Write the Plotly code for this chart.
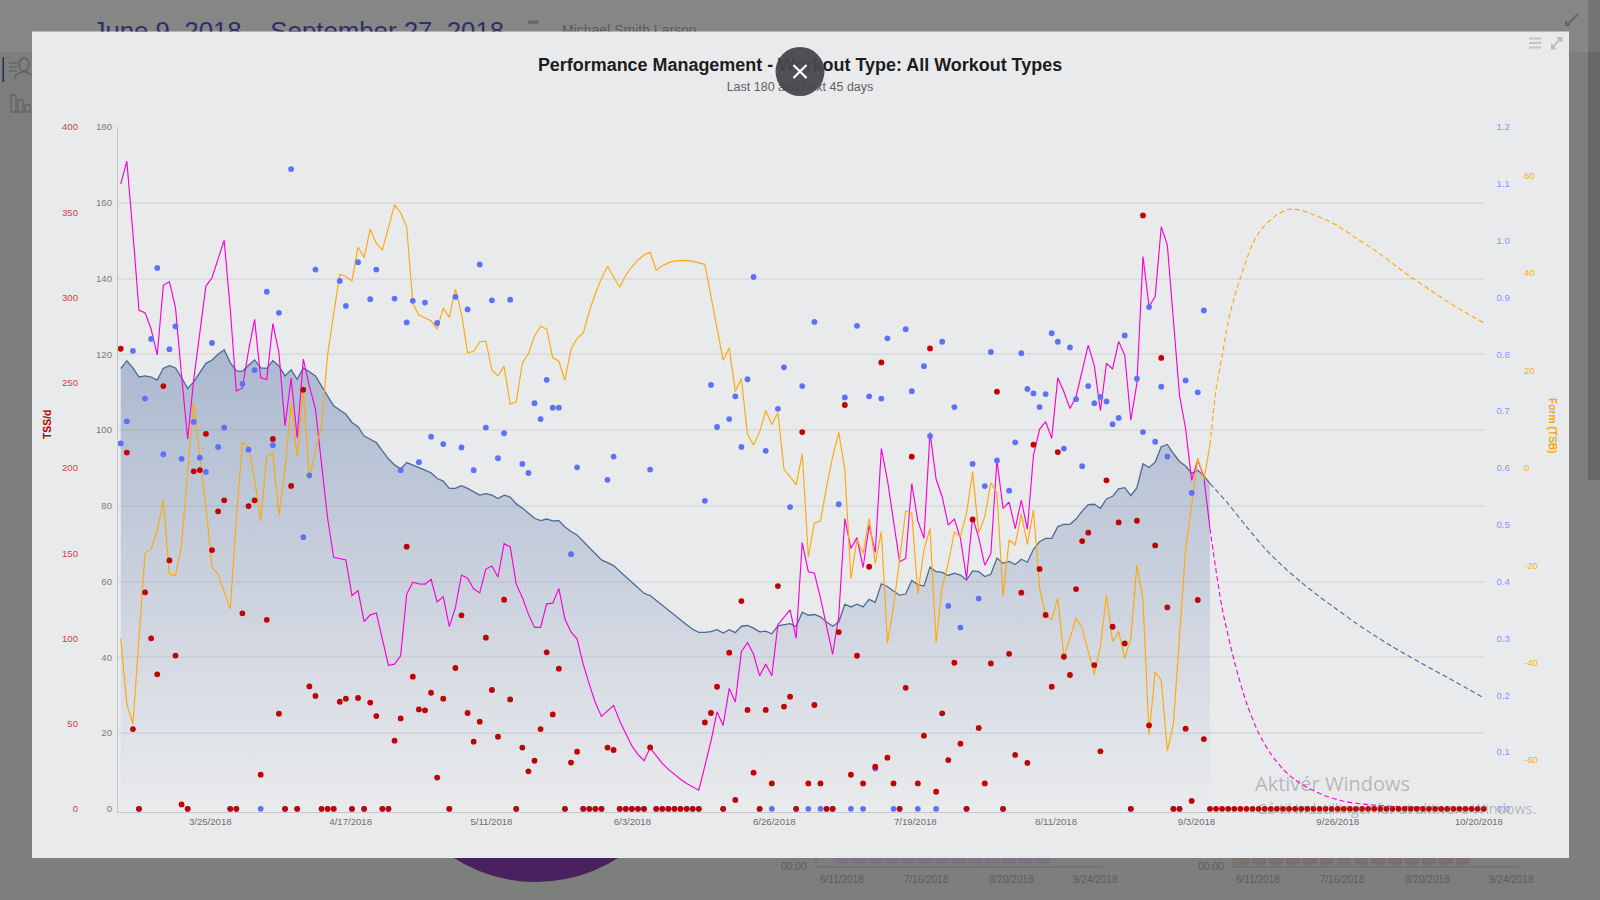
import pandas as pd
import plotly.graph_objects as go

# ---------- data ----------
start_date = "2018-03-11"
tick_dates = ["2018-03-25 17:00", "2018-04-17 19:00", "2018-05-10 22:00", "2018-06-03 02:00", "2018-06-26 10:00",
              "2018-07-19 14:00", "2018-08-11 17:00", "2018-09-03 19:00", "2018-09-27 00:00", "2018-10-20 05:00"]
tick_labels = ["3/25/2018", "4/17/2018", "5/11/2018", "6/3/2018", "6/26/2018",
               "7/19/2018", "8/11/2018", "9/3/2018", "9/26/2018", "10/20/2018"]

ctl = [116.2,118.3,116.4,114,114.3,114,113.2,116.3,117,116.4,
       113.8,111,112.7,115.2,117.6,118.5,120,121.2,117.8,115.6,
       115.5,117.1,118.5,116.4,116.3,118.3,116.9,114.3,115.9,113.4,
       116.4,115.4,114.3,111.6,108.8,106.4,105.3,104.2,102,100.9,
       98.4,97.6,96.7,94.5,92.4,90.8,89.7,91.4,90.8,90.1,
       89.4,88.7,87.2,86.5,84.6,84.6,85.3,84.6,83.6,82.8,
       83.2,82.8,81.9,82.8,82.3,80.5,79.4,78.1,76.7,76.1,
       76.5,76,76.1,74.4,73.2,72.3,70.6,69,67.3,65.7,
       65,64.2,62.7,61.2,59.8,58.3,56.9,56.3,55,53.7,
       52.4,51,49.7,48.6,47.4,46.6,46.6,46.8,47.3,46.4,
       47.3,46.5,48.2,48.4,47.7,46.7,46.9,46.2,48.3,48.6,
       48.9,48.1,51.9,51.1,51.3,50.7,49.3,48.2,49.3,54,
       53.3,54,53.3,55.3,54.5,59.4,58.7,57.5,56.4,56.7,
       60.3,59.2,58.8,63.8,62.6,62.4,61.6,62.2,61.7,60.4,
       62.8,62.6,61.3,61.9,66.2,64.8,65.3,64.5,65.9,65.1,
       68.5,70.5,71.4,71.4,74.5,75.1,75.1,76.5,78.6,80.3,
       80.4,79.3,81.8,82.5,84.5,84.8,82.7,84.8,91.1,90.1,
       91.5,95.6,96.2,93.8,91.7,90.5,88.6,89.4,87.9,85.9]

atl = [164.9,171,152.1,131.6,131,126.6,119.8,138.2,139.2,132.3,
       114.3,97.6,113.4,125.7,138,140.2,145.1,150.1,131.9,110.3,
       111.1,120.9,129.2,113.8,113.4,128.1,120.4,101.1,113.7,98,
       118.7,111.6,105.5,90.4,76.7,66.4,66.1,65.7,56.3,57.6,
       49.4,51.2,51.7,44.6,37.9,38.2,40.4,56.7,59.8,59.4,
       59.3,60.6,54.6,56,48.1,53.1,61.7,60.9,58.1,57,
       63.3,64.1,61.2,70,69.2,59.3,55.8,51.4,47.9,47.9,
       54.1,54.3,58.2,50.1,46.7,44.8,38.2,32.9,28,24.4,
       25.8,27.3,23.2,19.7,16.6,14.4,12.7,16.1,14,12,
       10.4,9,7.8,6.7,5.8,4.9,11.3,17.9,25.6,22,
       31.8,28.2,41.5,43.9,40.8,35.1,38.2,35.1,48.6,50.6,
       52.5,45,70.3,62.6,62.2,55.6,47.9,40.8,50.9,76.6,
       68.7,71.6,63.7,74.9,67.7,95.1,86.8,75.6,65.2,66.1,
       85.9,76,71.4,99.4,87,82.4,74.9,76.5,71.4,60.8,
       76.9,71.6,64.3,67.4,92.1,79.3,81,74,81.5,73.8,
       93.4,100.2,102.2,97.8,113.8,110.1,105.7,108.8,115.6,122.4,
       117,105.1,117.6,116.1,123.4,119.8,102.6,112.3,145.8,132.6,
       135.2,153.7,148.8,128.6,109.2,100.4,86.7,92.1,87.7,74]

tsb = [-35,-48.5,-52.6,-35,-17.5,-16.7,-12.8,-6.6,-21.8,-22.1,
       -15.8,-0.9,13.4,2.3,-8,-20.4,-21.8,-25.4,-29,-10.4,
       5.2,4.3,-2.5,-10.9,2.4,2.9,-9.7,-0.4,13.3,2.3,
       16,-2.3,3.7,8.8,23.2,31.7,39.7,39.3,38.4,45.3,
       43.2,49,46.1,44.7,49.5,54,52.4,49.5,33.8,31.4,
       30.8,30.2,28.5,32.8,30.9,36.7,31.7,23.7,23.9,25.9,
       26,20.1,18.9,20.9,13.1,13.5,21.5,23.5,27.1,29.1,
       28.5,22.6,21.9,18,24.4,26.6,27.6,32.1,35.8,38.9,
       41.4,39.3,37.1,39.6,41.3,42.7,43.7,44.3,40.6,41.5,
       42.1,42.5,42.6,42.6,42.4,42.1,41.8,35.2,28.7,22.1,
       24.6,15.7,18.3,6.9,4.7,7.4,11.8,8.9,11.3,-0.3,
       -1.8,-3.5,2.9,-18.3,-11.3,-10.9,-3.9,2.3,7.3,-0.4,
       -22.8,-14.7,-17.6,-10.4,-19.6,-13.1,-36,-28.5,-18.9,-8.9,
       -9.3,-25.9,-16.9,-12.4,-35.9,-24.4,-19.6,-13.2,-14.1,-9.3,
       -0.8,-13.4,-10,-3,-5.2,-26.4,-14.8,-15.8,-9.5,-15.7,
       -8.6,-24.7,-30.2,-31.1,-26.8,-38.8,-35,-30.8,-32.9,-37.7,
       -42.4,-36.7,-26.1,-35.7,-33.6,-39.1,-35,-19.9,-27.1,-54.8,
       -41.9,-43.6,-58.1,-52.5,-34.7,-16.9,-7.6,2,-2.5,4.7]

tss = [269.9,209,46.8,0,127,100,78.9,248,145.7,89.9,
       2.6,0,198,198.7,220,151.8,174.5,181,0,0,
       114.7,177.6,181,20,110.9,217,55.8,0,189.4,0,
       245.9,71.8,66.2,0,0,0,62.8,64.6,0,65,
       0,62.3,54.4,0,0,40,53,153.8,77.5,58.3,
       57.8,68.1,18.3,64.6,0,82.6,113.5,56.2,39.4,51.1,
       100.4,69.7,42.3,122.7,64.2,0,35.9,22,28.2,46.8,
       91.8,55.4,82.2,0,27.1,33.5,0,0,0,0,
       35.9,34.5,0,0,0,0,0,36,0,0,
       0,0,0,0,0,0,50.7,56.2,71.6,0,
       91.6,5.2,121.9,58,21.2,0,58,14.9,130.7,60,
       65.8,0,221,14.9,60.9,14.9,0,0,103.7,236.9,
       20,89.8,14.9,142,24.7,261.9,30,14.9,0,71,
       206.6,14.9,42.9,270.1,10,56,28.6,85.7,38.2,0,
       169.8,47.4,14.9,85.3,244.7,0,90.9,31.6,126.8,26.9,
       213.6,140.7,113.7,71.6,209.3,89.2,78.5,128.9,157.1,162,
       84.3,33.7,192.7,106.8,168,97,0,169,348.1,49,
       154.5,264.5,118.2,0,0,47,4.6,122.5,40.9,
       0,0,0,0,0,0,0,0,0,0,0,0,0,0,0,0,0,0,0,0,0,0,0,
       0,0,0,0,0,0,0,0,0,0,0,0,0,0,0,0,0,0,0,0,0,0,0]

intensity = [.643,.682,.806,0,.722,.827,.952,.624,.809,.849,
             .616,0,.681,.618,.593,.82,.637,.671,0,0,
             .748,.632,.772,0,.91,.64,.873,0,1.126,0,
             .478,.587,.949,0,0,0,.929,.885,0,.962,
             0,.897,.949,0,0,.898,.596,.856,.894,.61,
             .891,.655,.855,.642,0,.901,.636,.879,.596,.958,
             .671,.895,.617,.661,.896,0,.607,.591,.714,.686,
             .755,.706,.706,0,.448,.601,0,0,0,0,
             .579,.62,0,0,0,0,0,.597,0,0,
             0,0,0,0,0,0,.542,.746,.672,0,
             .686,.726,.637,.756,.936,0,.63,0,.704,.777,
             .531,0,.744,0,.857,0,0,0,.536,.724,
             0,.85,0,.726,.071,.722,.828,0,0,.844,
             .735,0,.779,.656,0,.822,.357,.707,.319,0,
             .607,.37,.568,.804,.613,0,.56,.645,.802,.739,
             .731,.707,.73,.837,.822,.634,.812,.721,.603,.744,
             .714,.725,.717,.677,.688,.833,0,.757,.663,.883,
             .646,.743,.62,0,0,.754,.556,.733,.877]

ctl_proj_days = [179,182,185,188,191,194,197,200,203,206,209,212,215,218,221,224]
ctl_proj = [85.9,80.5,74.5,68.8,64,59.8,56,52.5,49,45.8,42.8,40,37.3,34.7,32,29.3]
atl_proj_days = [179,181,183,185,187,189,191,193,195,198,201,205,210,216,224]
atl_proj = [74,53,39,28,20,14.5,10.5,7.6,5.6,3.4,2,1.1,.6,.2,0]
tsb_proj_days = [179,180,181,182,183,184,185,186,187,188,190,192,194,196,198,200,203,206,209,212,215,218,221,224]
tsb_proj = [4.7,16,23,30,35,39,42.7,46,48.2,49.8,52,53.1,52.9,52,51,49.7,47.2,44.8,42,39.2,36.7,34.2,31.9,29.8]

gray_ticks = [0,20,40,60,80,100,120,140,160,180]
grid_ticks = [20,40,60,80,100,120,140,160]
red_ticks = [0,50,100,150,200,250,300,350,400]
blue_ticks = [0,.1,.2,.3,.4,.5,.6,.7,.8,.9,1,1.1,1.2]
blue_labels = ["0.0","0.1","0.2","0.3","0.4","0.5","0.6","0.7","0.8","0.9","1.0","1.1","1.2"]
orange_ticks = [-60,-40,-20,0,20,40,60]
orange_labels = ["-60","-40","-20","0","20","40","60"]

# ---------- helpers / styling ----------
W, H = 1600, 900
FONT = "Liberation Sans"
px = lambda x: x / W
py = lambda y: 1 - y / H
dates = pd.date_range(start_date, periods=225, freq="D")
pick = lambda days: [dates[d] for d in days]

fig = go.Figure()
AREA = "#4d6a95"
MAG = "#fb00d6"
ORG = "#ffa90a"
BLUE = "#5c72fb"
RED = "#bf0000"
dash = "5px,3px"

fig.add_trace(go.Scatter(x=dates[:len(ctl)], y=ctl, mode="lines", line=dict(color=AREA, width=1.3),
                         fill="tozeroy", fillgradient=dict(type="vertical", colorscale=[
                             [0, "rgba(60,95,155,0)"], [1, "rgba(60,95,155,0.36)"]]),
                         xaxis="x", yaxis="y"))
fig.add_trace(go.Scatter(x=pick(ctl_proj_days), y=ctl_proj, mode="lines",
                         line=dict(color=AREA, width=1.1, dash=dash, shape="spline", smoothing=0.7), xaxis="x", yaxis="y"))
fig.add_trace(go.Scatter(x=dates[:len(atl)], y=atl, mode="lines", line=dict(color=MAG, width=1.15),
                         xaxis="x", yaxis="y2"))
fig.add_trace(go.Scatter(x=pick(atl_proj_days), y=atl_proj, mode="lines",
                         line=dict(color=MAG, width=1.1, dash=dash, shape="spline", smoothing=0.7), xaxis="x", yaxis="y2"))
fig.add_trace(go.Scatter(x=dates[:len(tsb)], y=tsb, mode="lines", line=dict(color=ORG, width=1.15),
                         xaxis="x", yaxis="y3"))
fig.add_trace(go.Scatter(x=pick(tsb_proj_days), y=tsb_proj, mode="lines",
                         line=dict(color=ORG, width=1.1, dash=dash, shape="spline", smoothing=0.7), xaxis="x", yaxis="y3"))
fig.add_trace(go.Scatter(x=dates[:len(intensity)], y=intensity, mode="markers",
                         marker=dict(color=BLUE, size=5.8), cliponaxis=False, xaxis="x", yaxis="y4"))
fig.add_trace(go.Scatter(x=dates[:len(tss)], y=tss, mode="markers",
                         marker=dict(color=RED, size=5.8), cliponaxis=False, xaxis="x", yaxis="y5"))

# decorative page text drawn as clipped text traces
fig.add_trace(go.Scatter(x=[92.5], y=[21], mode="text", text=["June 9, 2018 \u2013 September 27, 2018"],
                         textposition="bottom right", cliponaxis=True,
                         textfont=dict(family=FONT, size=25.8, color="#2c3068"), xaxis="x6", yaxis="y6"))
fig.add_trace(go.Scatter(x=[527], y=[16], mode="text", text=["\u27a6"],
                         textposition="bottom right", cliponaxis=True,
                         textfont=dict(family="DejaVu Sans", size=15, color="#6a6a6a"), xaxis="x6", yaxis="y6"))
fig.add_trace(go.Scatter(x=[562], y=[24.5], mode="text", text=["Michael Smith Larson"],
                         textposition="bottom right", cliponaxis=True,
                         textfont=dict(family=FONT, size=14, color="#5d5d5d"), xaxis="x6", yaxis="y6"))
fig.add_trace(go.Scatter(x=[800, 800], y=[66.2, 88], mode="text",
                         text=["<b>Performance Management - Workout Type: All Workout Types</b>",
                               "Last 180 and next 45 days"],
                         textposition="middle center",
                         textfont=dict(family=FONT, size=[17.95, 12.5], color=["#1c1c1c", "#606060"]),
                         xaxis="x7", yaxis="y7"))

# ---------- page dressing ----------
shapes = []
def rect(x0, y0, x1, y1, color, layer="below", line=None):
    shapes.append(dict(type="rect", xref="paper", yref="paper", x0=px(x0), x1=px(x1), y0=py(y1), y1=py(y0),
                       fillcolor=color, line=dict(width=0) if line is None else line, layer=layer))
def seg(x0, y0, x1, y1, color, width, layer="below"):
    shapes.append(dict(type="line", xref="paper", yref="paper", x0=px(x0), x1=px(x1), y0=py(y0), y1=py(y1),
                       line=dict(color=color, width=width), layer=layer))
def circle(x0, y0, x1, y1, color, layer="below", line=None, opacity=1):
    shapes.append(dict(type="circle", xref="paper", yref="paper", x0=px(x0), x1=px(x1), y0=py(y1), y1=py(y0),
                       fillcolor=color, line=dict(width=0) if line is None else line, layer=layer, opacity=opacity))

rect(0, 0, 1600, 52, "#868686")
rect(1588, 52, 1600, 480, "#686868")
rect(1588, 0, 1600, 52, "#747474")
circle(384, 578, 688, 882, "#48215e")
rect(32, 31.5, 1569, 858, "#e9eaec")

# left icons
seg(3.3, 57, 3.3, 82, "#2a2f6a", 1.6)
circle(19, 58, 29, 71, "rgba(0,0,0,0)", line=dict(color="#606060", width=1.4))
shapes.append(dict(type="path", xref="paper", yref="paper", layer="below",
                   path=f"M {px(15)} {py(79)} L {px(15)} {py(76)} L {px(21)} {py(72)} L {px(27)} {py(72)} L {px(31)} {py(75)}",
                   line=dict(color="#606060", width=1.4)))
for yy in (63, 67, 71):
    seg(9, yy, 17, yy, "#606060", 1.2)
for x0, y0, x1 in ((11, 95, 16), (18, 100, 23), (25, 105, 30)):
    rect(x0, y0, x1, 112, "rgba(0,0,0,0)", line=dict(color="#646464", width=1.4))

# bottom mini-charts behind the modal
for k in range(13):
    rect(835 + k * 16.7, 858, 849 + k * 16.7, 865, "#7c7480")
seg(816, 858, 816, 867, "#6b6c6b", 1)
seg(816, 867, 1102, 867, "#6b6c6b", 1)
for k in range(14):
    rect(1235 + k * 17, 858, 1249 + k * 17, 865, "#7f7070")
seg(1233, 858, 1233, 867, "#6b6c6b", 1)
seg(1233, 867, 1519, 867, "#6b6c6b", 1)

# modal icons
for yy in (38.5, 43, 47.5):
    seg(1529, yy, 1541, yy, "#c3c4c6", 2)
seg(1552, 48, 1561, 38, "#bdbec0", 2)
shapes.append(dict(type="path", xref="paper", yref="paper", layer="below", fillcolor="#bdbec0", line=dict(width=0),
                   path=f"M {px(1551)} {py(43)} L {px(1551)} {py(49.5)} L {px(1557)} {py(49.5)} Z"))
shapes.append(dict(type="path", xref="paper", yref="paper", layer="below", fillcolor="#bdbec0", line=dict(width=0),
                   path=f"M {px(1562.5)} {py(43)} L {px(1562.5)} {py(37)} L {px(1556)} {py(37)} Z"))
seg(1566, 26, 1578, 14, "#666666", 2)
shapes.append(dict(type="path", xref="paper", yref="paper", layer="below", fillcolor="#666666", line=dict(width=0),
                   path=f"M {px(1565)} {py(20)} L {px(1565)} {py(26)} L {px(1571)} {py(26)} Z"))

# close button (sits above the title)
circle(775.5, 47, 824.5, 96, "#47484c", layer="above", opacity=0.95)
seg(793.5, 65, 806.5, 78, "#ffffff", 2.2, layer="above")
seg(793.5, 78, 806.5, 65, "#ffffff", 2.2, layer="above")

# ---------- annotations ----------
ann = []
def note(x, y, text, size, color, angle=0, family=FONT, xanchor="center"):
    ann.append(dict(xref="paper", yref="paper", x=px(x), y=py(y), text=text, showarrow=False, textangle=angle,
                    font=dict(family=family, size=size, color=color), xanchor=xanchor, yanchor="middle"))

note(47, 425, "<b>TSS/d</b>", 10.4, "#b00000", angle=-90)
note(1553, 425, "<b>Form (TSB)</b>", 10.2, "#ffa500", angle=90)
note(794, 866, "00:00", 10.3, "#5c5d5c")
note(1211, 866, "00:00", 10.3, "#5c5d5c")
for x, t in ((842, "6/11/2018"), (926.5, "7/16/2018"), (1011, "8/20/2018"), (1095, "9/24/2018"),
             (1258, "6/11/2018"), (1342.7, "7/16/2018"), (1427, "8/20/2018"), (1511.7, "9/24/2018")):
    note(x, 879, t, 10, "#5c5d5c")
note(1253, 783, "Aktiv\u00e9r Windows", 20, "rgba(110,110,110,0.42)", family="Open Sans", xanchor="left")
note(1255, 808, "G\u00e5 til Indstillinger for at aktivere Windows.", 14.2, "rgba(110,110,110,0.42)",
     family="Open Sans", xanchor="left")

# ---------- layout ----------
y_dom = [py(811.5), py(127)]
x_dom = [px(118.3), px(1484)]
tick_font = lambda c: dict(family=FONT, size=9.6, color=c)
free = dict(overlaying="y", anchor="free", domain=y_dom, showgrid=False, zeroline=False,
            showline=False, ticks="", tickmode="array", automargin=False)

fig.update_layout(
    width=W, height=H, autosize=False, margin=dict(l=0, r=0, t=0, b=0, pad=0, autoexpand=False),
    paper_bgcolor="#7d7f7d", plot_bgcolor="rgba(0,0,0,0)", showlegend=False, hovermode=False,
    shapes=shapes, annotations=ann,
    xaxis=dict(domain=x_dom, type="date", range=["2018-03-10 14:24", "2018-10-21 01:00"],
               tickmode="array", tickvals=tick_dates, ticktext=tick_labels, tickfont=tick_font("#6f6f6f"),
               ticks="", showgrid=False, zeroline=False, showline=True, linecolor="#c6c7c9", linewidth=1.4,
               anchor="y", ticklabelstandoff=1, automargin=False),
    yaxis=dict(domain=y_dom, range=[-0.71, 180], tickmode="array", tickvals=grid_ticks, showticklabels=False,
               ticks="", showgrid=True, gridcolor="#dddee0", gridwidth=1.6, zeroline=False,
               showline=True, linecolor="#c6c7c9", linewidth=1.4, anchor="x", automargin=False),
    yaxis2=dict(free, side="left", position=px(112), range=[-0.71, 180], tickvals=gray_ticks,
                tickfont=tick_font("#7b7b7b")),
    yaxis3=dict(free, side="right", position=px(1523), range=[-70.55, 70], tickvals=orange_ticks,
                ticktext=orange_labels, tickfont=tick_font("#ffae2a")),
    yaxis4=dict(free, side="right", position=px(1495.5), range=[-0.00475, 1.2], tickvals=blue_ticks,
                ticktext=blue_labels, tickfont=tick_font("#8f91fc")),
    yaxis5=dict(free, side="left", position=px(78), range=[-1.58, 400], tickvals=red_ticks,
                tickfont=tick_font("#c64646")),
    xaxis6=dict(domain=[0, 1], range=[0, W], visible=False, anchor="y6", automargin=False),
    yaxis6=dict(domain=[py(31.5), 1], range=[31.5, 0], visible=False, anchor="x6", automargin=False),
    xaxis7=dict(domain=[0, 1], range=[0, W], visible=False, anchor="y7", automargin=False),
    yaxis7=dict(domain=[py(110), py(40)], range=[110, 40], visible=False, anchor="x7", automargin=False),
)

fig.write_html("out.html", config={"displayModeBar": False},
               post_script="document.body.style.margin='0';document.body.style.overflow='hidden';")
